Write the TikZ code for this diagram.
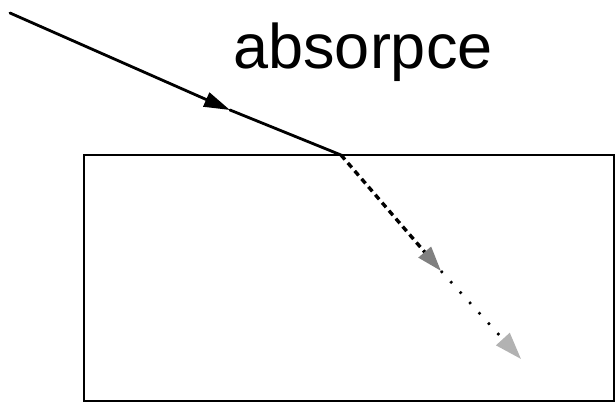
\documentclass[tikz,border=0pt]{standalone}
\usepackage{fontspec}
\setmainfont{Liberation Sans}
\usetikzlibrary{arrows.meta}
\begin{document}
\begin{tikzpicture}[x=1pt,y=-1pt,
  ray/.style={line width=2.8pt, line cap=round},
  dashray/.style={line width=3.4pt, dash pattern=on 6pt off 4.5pt},
  dotray/.style={line width=2.6pt, dash pattern=on 2.4pt off 11.6pt},
  medium/.style={draw, line width=2.6pt},
  label/.style={font=\fontsize{63}{70}\selectfont, anchor=base}]
\useasboundingbox (0,0) rectangle (615,404);
\draw[medium] (84,155) rectangle (614,401);
\coordinate (src) at (10,13);
\coordinate (mid) at (230,110);
\coordinate (hit) at (341,155);
\coordinate (t1) at (441,271);
\coordinate (t2) at (521,359);
\draw[ray, -{Triangle[length=26pt,width=15pt]}] (src) -- (mid);
\draw[ray] (mid) -- (hit);
\draw[dashray, -{Triangle[length=25pt,width=16pt,color=gray,fill=gray]}] (hit) -- (t1);
\draw[dotray, -{Triangle[length=27pt,width=18pt,color=black!30,fill=black!30]}] (t1) -- (t2);
\node[label] (lbl) at (363,68) {absorpce};
\end{tikzpicture}
\end{document}
